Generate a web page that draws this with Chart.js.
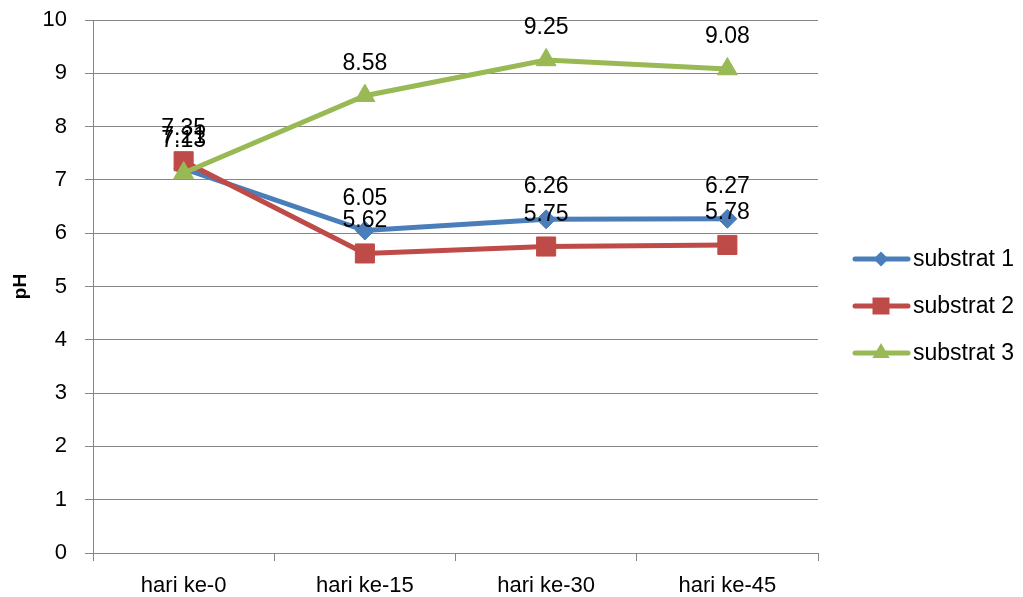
<!DOCTYPE html>
<html>
<head>
<meta charset="utf-8">
<script src="https://cdn.jsdelivr.net/npm/chart.js@4.4.1/dist/chart.umd.min.js"></script>
<style>
  html, body { margin: 0; padding: 0; background: #ffffff; }
  #wrap { width: 1023px; height: 597px; position: relative; }
</style>
</head>
<body>
<div id="wrap"><canvas id="c"></canvas></div>
<script>
// pH per sampling day
const categories = ['hari ke-0', 'hari ke-15', 'hari ke-30', 'hari ke-45'];
const substrat1 = [7.21, 6.05, 6.26, 6.27];
const substrat2 = [7.35, 5.62, 5.75, 5.78];
const substrat3 = [7.13, 8.58, 9.25, 9.08];
const seriesNames = ['substrat 1', 'substrat 2', 'substrat 3'];
const yTickValues = [0, 1, 2, 3, 4, 5, 6, 7, 8, 9, 10];

const FONT = '"Liberation Sans", Arial, sans-serif';
const GRID = '#868686';
const colors = ['#4a7ebb', '#be4b48', '#98b954'];
const styles = ['rectRot', 'rect', 'triangle'];
const radii = [9.5, 13.5, 11.5];

Chart.defaults.font.family = FONT;
Chart.defaults.color = '#000000';

// value written above each point
const valueLabels = {
  id: 'valueLabels',
  afterDatasetsDraw(chart) {
    const ctx = chart.ctx;
    ctx.save();
    ctx.font = '23px ' + FONT;
    ctx.fillStyle = '#000000';
    ctx.textAlign = 'center';
    ctx.textBaseline = 'alphabetic';
    chart.data.datasets.forEach((ds, i) => {
      const meta = chart.getDatasetMeta(i);
      meta.data.forEach((pt, j) => {
        ctx.fillText(ds.data[j].toFixed(2), pt.x, pt.y - 26);
      });
    });
    ctx.restore();
  }
};

// legend on the right: line segment with marker, then the series name
const sideLegend = {
  id: 'sideLegend',
  afterDraw(chart) {
    const ctx = chart.ctx;
    const rows = [259, 306, 353];
    const x0 = 855, x1 = 908, xm = 881;
    ctx.save();
    chart.data.datasets.forEach((ds, i) => {
      const y = rows[i];
      ctx.strokeStyle = ds.borderColor;
      ctx.lineWidth = 5;
      ctx.lineCap = 'round';
      ctx.beginPath();
      ctx.moveTo(x0, y);
      ctx.lineTo(x1, y);
      ctx.stroke();
      ctx.fillStyle = ds.borderColor;
      ctx.beginPath();
      if (ds.pointStyle === 'rectRot') {
        const r = 7.5;
        ctx.moveTo(xm, y - r); ctx.lineTo(xm + r, y); ctx.lineTo(xm, y + r); ctx.lineTo(xm - r, y);
      } else if (ds.pointStyle === 'rect') {
        const h = 8.5;
        ctx.rect(xm - h, y - h, 2 * h, 2 * h);
      } else {
        const r = 10;
        ctx.moveTo(xm, y - r);
        ctx.lineTo(xm + r * 0.866, y + r * 0.5);
        ctx.lineTo(xm - r * 0.866, y + r * 0.5);
      }
      ctx.closePath();
      ctx.fill();
      ctx.fillStyle = '#000000';
      ctx.font = '23px ' + FONT;
      ctx.textAlign = 'left';
      ctx.textBaseline = 'middle';
      ctx.fillText(ds.label, 913, y + 1);
    });
    ctx.restore();
  }
};

const seriesData = [substrat1, substrat2, substrat3];

new Chart(document.getElementById('c'), {
  type: 'line',
  data: {
    labels: categories,
    datasets: seriesData.map((d, i) => ({
      label: seriesNames[i],
      data: d,
      borderColor: colors[i],
      backgroundColor: colors[i],
      borderWidth: 5,
      tension: 0,
      pointStyle: styles[i],
      pointRadius: radii[i],
      pointHoverRadius: radii[i],
      pointBackgroundColor: colors[i],
      pointBorderColor: colors[i],
      pointBorderWidth: 1,
      order: 3 - i,
      fill: false
    }))
  },
  options: {
    responsive: true,
    maintainAspectRatio: false,
    animation: false,
    devicePixelRatio: 1,
    layout: { padding: { left: 0, top: 20, right: 205, bottom: 0 } },
    plugins: {
      legend: { display: false },
      tooltip: { enabled: false }
    },
    scales: {
      x: {
        offset: true,
        grid: { offset: true, drawOnChartArea: false, drawTicks: true, tickLength: 8, color: GRID, lineWidth: 1 },
        border: { color: GRID, width: 1 },
        ticks: { padding: 12, color: '#000000', font: { family: FONT, size: 22 } },
        afterFit(s) { s.height = 44; s.paddingLeft = 0; s.paddingRight = 0; }
      },
      y: {
        min: 0,
        max: 10,
        afterBuildTicks(s) { s.ticks = yTickValues.map(v => ({ value: v })); },
        grid: { color: GRID, lineWidth: 1, drawTicks: true, tickLength: 8 },
        border: { color: GRID, width: 1 },
        ticks: { padding: 18, color: '#000000', font: { family: FONT, size: 22 } },
        title: {
          display: true,
          text: 'pH',
          color: '#000000',
          font: { family: FONT, size: 19, weight: 'bold' },
          padding: { top: 9, bottom: 0 }
        },
        afterFit(s) { s.width = 93; s.paddingTop = 0; s.paddingBottom = 0; }
      }
    }
  },
  plugins: [valueLabels, sideLegend]
});
</script>
</body>
</html>
